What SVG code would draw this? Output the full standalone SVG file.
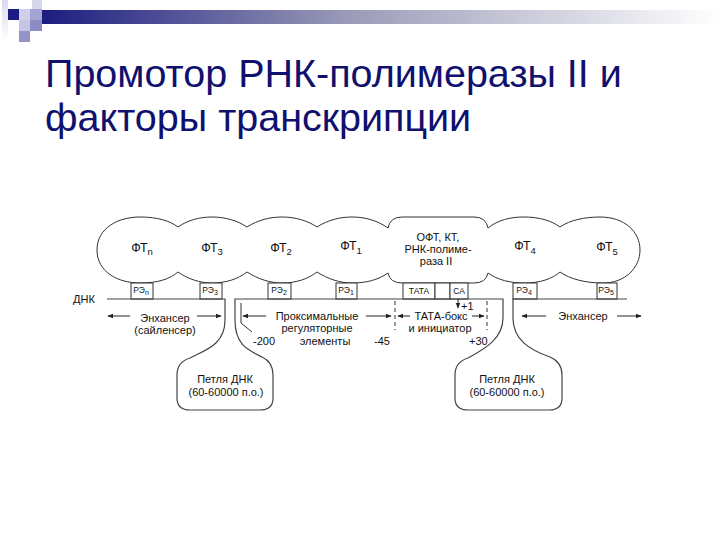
<svg xmlns="http://www.w3.org/2000/svg" width="720" height="540" viewBox="0 0 720 540">
<defs>
<linearGradient id="bar" x1="0" y1="0" x2="1" y2="0">
<stop offset="0" stop-color="#1c1c80"/>
<stop offset="0.45" stop-color="#9a9ab8"/>
<stop offset="1" stop-color="#ffffff"/>
</linearGradient>
<linearGradient id="strip" x1="0" y1="0" x2="0" y2="1">
<stop offset="0" stop-color="#d8d8ee"/>
<stop offset="1" stop-color="#ffffff"/>
</linearGradient>
<marker id="ah" viewBox="0 0 10 10" refX="9" refY="5" markerWidth="6" markerHeight="6" orient="auto-start-reverse" markerUnits="userSpaceOnUse">
<path d="M0,1 L10,5 L0,9 Z" fill="#222"/>
</marker>
<style>
.title{font-family:"Liberation Sans",Arial,sans-serif;font-size:39.5px;fill:#10106e}
.ol{fill:#fff;stroke:#333;stroke-width:1}
.ln{fill:none;stroke:#333;stroke-width:1}
.dna{fill:none;stroke:#444;stroke-width:1.2}
.dash{fill:none;stroke:#333;stroke-width:1;stroke-dasharray:4,3}
.ar{fill:none;stroke:#222;stroke-width:1;marker-end:url(#ah)}
.ft{font-family:"Liberation Sans",Arial,sans-serif;font-size:12.5px;fill:#111;text-anchor:middle}
.sub{font-size:9.5px}
.re{font-family:"Liberation Sans",Arial,sans-serif;font-size:8.5px;fill:#111;text-anchor:middle}
.lb{font-family:"Liberation Sans",Arial,sans-serif;font-size:11px;fill:#111;text-anchor:middle}
.lbs{font-family:"Liberation Sans",Arial,sans-serif;font-size:11px;fill:#111}
</style>
</defs>
<g id="header">
<rect x="2" y="0" width="6" height="40" fill="url(#strip)"/>
<rect x="32" y="0" width="10" height="9" fill="#d6d6ec"/>
<rect x="8" y="9" width="11" height="11" fill="#1c1c84"/>
<rect x="19" y="9" width="11" height="11" fill="#d0d0ea"/>
<rect x="30" y="9" width="12" height="11" fill="#a4a4d4"/>
<rect x="19" y="20" width="11" height="11" fill="#c6c6e4"/>
<rect x="30" y="20" width="12" height="11" fill="#8c8cc4"/>
<rect x="19" y="31" width="11" height="11" fill="#9494c8"/>
<rect x="42" y="10" width="678" height="14" fill="url(#bar)"/>
</g>
<g id="title">
<text class="title" x="45" y="87">Промотор РНК-полимеразы II и</text>
<text class="title" x="45" y="131">факторы транскрипции</text>
</g>
<g id="cloud">
<path class="ol" d="M97,250 C97,228 118,217 140,217 C158,217 170,221 178,227 C188,220 200,217 212,217 C226,217 238,221 247,227 C258,220 270,217 282,217 C296,217 308,221 317,227 C328,220 340,217 352,217 C366,217 378,221 388,228 Q390,217 402,217 L474,217 Q486,217 488,228 C498,220 510,217 524,217 C540,217 552,221 560,227 C570,220 585,217 600,217 C625,217 640,232 640,250 C640,268 625,283 603,283 C585,283 570,279 560,272 C552,279 540,283 524,283 C510,283 498,280 488,273 Q486,283 474,283 L402,283 Q390,283 388,273 C378,280 366,283 352,283 C340,283 328,279 317,272 C308,279 296,283 282,283 C270,283 258,279 247,272 C238,279 226,283 212,283 C200,283 188,279 178,272 C170,279 158,283 140,283 C118,283 97,272 97,250 Z"/>
</g>
<g id="ftn"><text class="ft" x="142" y="252">ФТ<tspan class="sub" dy="3">n</tspan></text></g>
<g id="ft3"><text class="ft" x="212" y="252">ФТ<tspan class="sub" dy="3">3</tspan></text></g>
<g id="ft2"><text class="ft" x="281" y="252">ФТ<tspan class="sub" dy="3">2</tspan></text></g>
<g id="ft1"><text class="ft" x="351" y="250">ФТ<tspan class="sub" dy="4">1</tspan></text></g>
<g id="complex">
<text class="lb" x="438" y="241">ОФТ, КТ,</text>
<text class="lb" x="438" y="253">РНК-полиме-</text>
<text class="lb" x="436" y="265">раза II</text>
</g>
<g id="ft4"><text class="ft" x="525" y="250">ФТ<tspan class="sub" dy="4">4</tspan></text></g>
<g id="ft5"><text class="ft" x="607" y="251">ФТ<tspan class="sub" dy="4">5</tspan></text></g>
<g id="ren"><rect class="ol" x="131" y="283" width="22" height="16"/><text class="re" x="141" y="293">РЭ<tspan font-size="7" dy="2">n</tspan></text></g>
<g id="re3"><rect class="ol" x="200" y="283" width="22" height="16"/><text class="re" x="210" y="293">РЭ<tspan font-size="7" dy="2">3</tspan></text></g>
<g id="re2"><rect class="ol" x="268" y="283" width="23" height="16"/><text class="re" x="279" y="293">РЭ<tspan font-size="7" dy="2">2</tspan></text></g>
<g id="re1"><rect class="ol" x="336" y="283" width="21" height="16"/><text class="re" x="346" y="293">РЭ<tspan font-size="7" dy="2">1</tspan></text></g>
<g id="tata"><rect class="ol" x="403" y="283" width="32" height="16"/><rect class="ol" x="435" y="283" width="15" height="16"/><text class="re" x="419" y="294">ТАТА</text></g>
<g id="ca"><rect class="ol" x="450" y="283" width="18" height="16"/><text class="re" x="459" y="294">СА</text></g>
<g id="re4"><rect class="ol" x="513" y="283" width="24" height="16"/><text class="re" x="524" y="293">РЭ<tspan font-size="7" dy="2">4</tspan></text></g>
<g id="re5"><rect class="ol" x="597" y="283" width="20" height="16"/><text class="re" x="606" y="293">РЭ<tspan font-size="7" dy="2">5</tspan></text></g>
<g id="dna">
<text class="lbs" x="73" y="303">ДНК</text>
<path class="dna" d="M107,299 L225,299 L225,320 C225,345 205,350 190,358 Q177,362 177,375 L177,398 Q177,410 190,410 L260,410 Q273,410 273,398 L273,375 Q273,362 262,357 C248,350 235,345 235,320 L235,299 L503,299 L503,318 C503,340 482,350 468,358 Q455,362 455,375 L455,398 Q455,410 468,410 L549,410 Q562,410 562,398 L562,375 Q562,362 550,357 C530,350 513,340 513,318 L513,299 L627,299"/>
</g>
<g id="loop1"><text class="lb" x="225" y="383">Петля ДНК</text><text class="lb" x="226" y="396">(60-60000 п.о.)</text></g>
<g id="loop2"><text class="lb" x="507" y="383">Петля ДНК</text><text class="lb" x="507" y="396">(60-60000 п.о.)</text></g>
<g id="enh1"><text class="lb" x="165" y="322">Энхансер</text><text class="lb" x="165" y="334">(сайленсер)</text></g>
<g id="prox"><text class="lb" x="317" y="320">Проксимальные</text><text class="lb" x="317" y="332">регуляторные</text><text class="lb" x="325" y="345">элементы</text></g>
<g id="tatabox"><text class="lb" x="441" y="320">ТАТА-бокс</text><text class="lb" x="440" y="332">и инициатор</text></g>
<g id="enh2"><text class="lb" x="583" y="320">Энхансер</text></g>
<g id="numbers">
<text class="lbs" x="253" y="345">-200</text>
<text class="lbs" x="374" y="345">-45</text>
<text class="lbs" x="469" y="345">+30</text>
<text class="lbs" x="461" y="310">+1</text>
</g>
<g id="connectors">
<line class="ar" x1="130" y1="316" x2="108" y2="316"/>
<line class="ar" x1="197" y1="316" x2="221" y2="316"/>
<path class="ln" d="M241,303 L241,323 L252,332"/>
<line class="ar" x1="266" y1="316" x2="243" y2="316"/>
<line class="ar" x1="366" y1="316" x2="391" y2="316"/>
<line class="dash" x1="395" y1="301" x2="395" y2="330"/>
<line class="ar" x1="410" y1="316" x2="398" y2="316"/>
<line class="ar" x1="472" y1="316" x2="484" y2="316"/>
<line class="dash" x1="487" y1="301" x2="487" y2="330"/>
<line class="ar" x1="458" y1="299" x2="458" y2="308"/>
<line class="ar" x1="546" y1="316" x2="522" y2="316"/>
<line class="ar" x1="617" y1="316" x2="641" y2="316"/>
</g>
</svg>
